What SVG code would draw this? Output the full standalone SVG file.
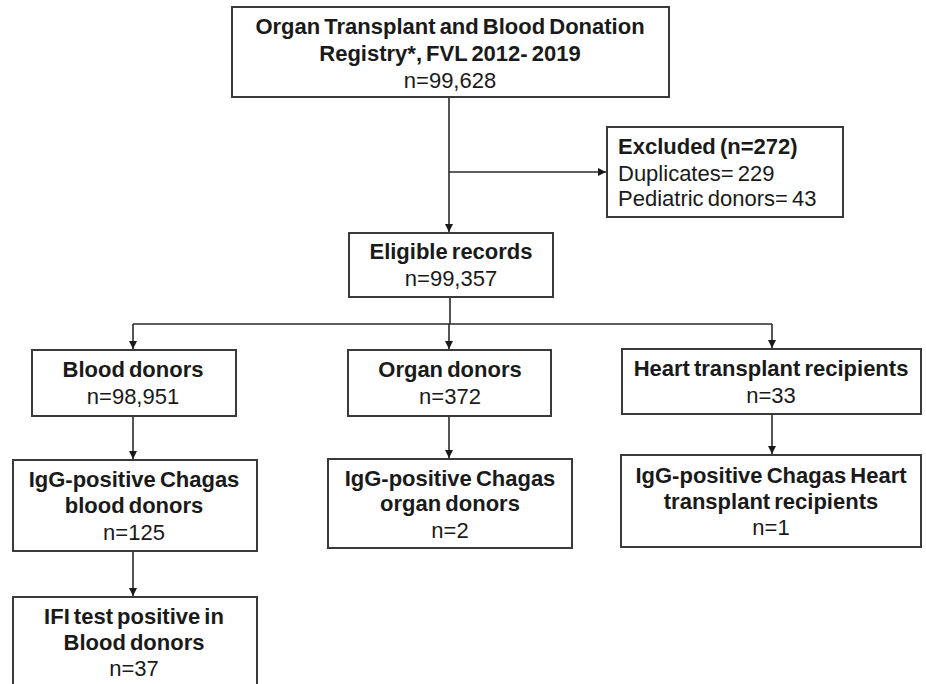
<svg xmlns="http://www.w3.org/2000/svg" width="926" height="684" viewBox="0 0 926 684">
<defs>
<style>
.box{fill:#fff;stroke:#3a3a3a;stroke-width:2}
.t{font-family:"Liberation Sans",Arial,sans-serif;font-size:22px;fill:#1a1a1a;text-anchor:middle;word-spacing:-2px}
.b{font-weight:bold}
.l{text-anchor:start}
.c{fill:none;stroke:#2a2a2a;stroke-width:1.6}
</style>
<marker id="ah" markerUnits="userSpaceOnUse" markerWidth="10" markerHeight="10" viewBox="0 0 10 10" refX="9" refY="5" orient="auto">
<path d="M1,1 L9,5 L1,9 Z" fill="#1a1a1a"/>
</marker>
</defs>
<rect width="926" height="684" fill="#fff"/>
<g id="connectors">
<path class="c" d="M449,97 V232" marker-end="url(#ah)"/>
<path class="c" d="M449,172 H606" marker-end="url(#ah)"/>
<path class="c" d="M450,297 V324"/>
<path class="c" d="M133,324 H772"/>
<path class="c" d="M133,324 V349" marker-end="url(#ah)"/>
<path class="c" d="M449,324 V349" marker-end="url(#ah)"/>
<path class="c" d="M772,324 V348" marker-end="url(#ah)"/>
<path class="c" d="M133,416 V459" marker-end="url(#ah)"/>
<path class="c" d="M449,416 V458" marker-end="url(#ah)"/>
<path class="c" d="M772,414 V454" marker-end="url(#ah)"/>
<path class="c" d="M133,551 V596" marker-end="url(#ah)"/>
</g>
<g id="registry">
<rect class="box" x="232" y="7" width="437" height="90"/>
<text class="t b" x="450" y="34">Organ Transplant and Blood Donation</text>
<text class="t b" x="450" y="61">Registry*, FVL 2012- 2019</text>
<text class="t" x="450" y="88">n=99,628</text>
</g>
<g id="excluded">
<rect class="box" x="607" y="127" width="236" height="90"/>
<text class="t b l" x="618" y="154">Excluded (n=272)</text>
<text class="t l" x="618" y="181">Duplicates= 229</text>
<text class="t l" x="618" y="206">Pediatric donors= 43</text>
</g>
<g id="eligible">
<rect class="box" x="349" y="233" width="204" height="64"/>
<text class="t b" x="451" y="259">Eligible records</text>
<text class="t" x="451" y="286">n=99,357</text>
</g>
<g id="blood">
<rect class="box" x="32" y="350" width="204" height="66"/>
<text class="t b" x="133" y="377">Blood donors</text>
<text class="t" x="133" y="404">n=98,951</text>
</g>
<g id="organ">
<rect class="box" x="348" y="350" width="203" height="66"/>
<text class="t b" x="450" y="377">Organ donors</text>
<text class="t" x="450" y="404">n=372</text>
</g>
<g id="heart">
<rect class="box" x="622" y="349" width="299" height="65"/>
<text class="t b" x="771" y="376">Heart transplant recipients</text>
<text class="t" x="771" y="403">n=33</text>
</g>
<g id="blood-igg">
<rect class="box" x="13" y="460" width="244" height="91"/>
<text class="t b" x="134" y="487">IgG-positive Chagas</text>
<text class="t b" x="134" y="513">blood donors</text>
<text class="t" x="134" y="540">n=125</text>
</g>
<g id="organ-igg">
<rect class="box" x="328" y="459" width="244" height="89"/>
<text class="t b" x="450" y="486">IgG-positive Chagas</text>
<text class="t b" x="450" y="511">organ donors</text>
<text class="t" x="450" y="538">n=2</text>
</g>
<g id="heart-igg">
<rect class="box" x="621" y="455" width="300" height="92"/>
<text class="t b" x="771" y="483">IgG-positive Chagas Heart</text>
<text class="t b" x="771" y="509">transplant recipients</text>
<text class="t" x="771" y="535">n=1</text>
</g>
<g id="ifi">
<rect class="box" x="13" y="597" width="244" height="110"/>
<text class="t b" x="134" y="624">IFI test positive in</text>
<text class="t b" x="134" y="650">Blood donors</text>
<text class="t" x="134" y="676">n=37</text>
</g>
</svg>
